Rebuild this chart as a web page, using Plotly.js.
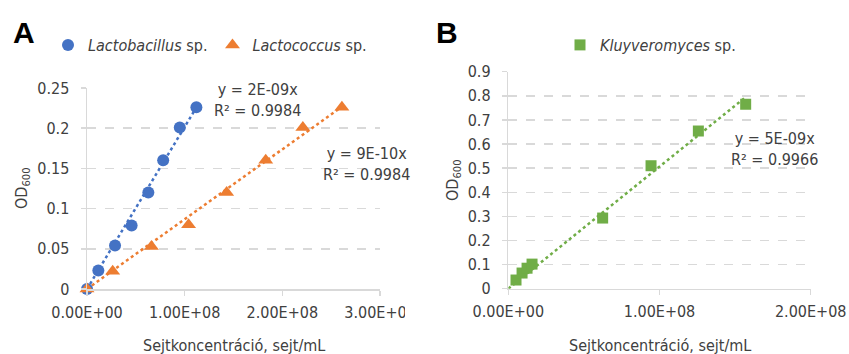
<!DOCTYPE html>
<html>
<head>
<meta charset="utf-8">
<script src="https://cdn.plot.ly/plotly-3.0.1.min.js"></script>
<style>
  html, body { margin: 0; padding: 0; background: #fff; }
  #chart { width: 849px; height: 354px; }
</style>
</head>
<body>
<div id="chart"></div>
<script>
// Calibration data: optical density (OD600) against cell concentration (cells/mL)
const lactobacillusX = [0, 1.16e7, 2.87e7, 4.57e7, 6.28e7, 7.8e7, 9.5e7, 1.12e8];
const lactobacillusY = [0, 0.023, 0.054, 0.079, 0.12, 0.16, 0.201, 0.226];

const lactococcusX = [0, 2.63e7, 6.6e7, 1.04e8, 1.43e8, 1.83e8, 2.21e8, 2.61e8];
const lactococcusY = [0, 0.022, 0.053, 0.08, 0.12, 0.16, 0.201, 0.226];

const kluyveromycesX = [5.1e6, 9.1e6, 1.24e7, 1.57e7, 6.24e7, 9.44e7, 1.257e8, 1.57e8];
const kluyveromycesY = [0.036, 0.065, 0.085, 0.102, 0.293, 0.51, 0.654, 0.765];

const xTicksA = [0, 1e8, 2e8, 3e8];
const xTickTextA = ['0.00E+00', '1.00E+08', '2.00E+08', '3.00E+08'];
const xTicksB = [0, 1e8, 2e8];
const xTickTextB = ['0.00E+00', '1.00E+08', '2.00E+08'];

const trendLabelA1 = 'y = 2E-09x<br>R² = 0.9984';
const trendLabelA2 = 'y = 9E-10x<br>R² = 0.9984';
const trendLabelB = 'y = 5E-09x<br>R² = 0.9966';

const BLUE = '#4472C4', ORANGE = '#ED7D31', GREEN = '#70AD47';
const NARROW = '"Liberation Sans Narrow", "Arial Narrow", "DejaVu Sans Condensed", sans-serif';
const TEXT = '#404040';
const GRID = '#d9d9d9';

// least-squares slope of a line forced through the origin
function originSlope(xs, ys) {
  let sxy = 0, sxx = 0;
  for (let i = 0; i < xs.length; i++) { sxy += xs[i] * ys[i]; sxx += xs[i] * xs[i]; }
  return sxy / sxx;
}

function trend(xs, ys, color, xa, ya) {
  const k = originSlope(xs, ys);
  const x0 = 0, x1 = Math.max(...xs);
  return {
    x: [x0, x1], y: [k * x0, k * x1],
    mode: 'lines', xaxis: xa, yaxis: ya, showlegend: false, hoverinfo: 'skip',
    line: { color: color, width: 2.5, dash: 'dot' }
  };
}

const traces = [
  trend(lactobacillusX, lactobacillusY, BLUE, 'x', 'y'),
  trend(lactococcusX, lactococcusY, ORANGE, 'x', 'y'),
  trend(kluyveromycesX, kluyveromycesY, GREEN, 'x2', 'y2'),
  {
    x: lactobacillusX, y: lactobacillusY, name: '<i>Lactobacillus</i> sp.',
    mode: 'markers', xaxis: 'x', yaxis: 'y', legend: 'legend', cliponaxis: false,
    marker: { symbol: 'circle', size: 12, color: BLUE }
  },
  {
    x: lactococcusX, y: lactococcusY, name: '<i>Lactococcus</i> sp.',
    mode: 'markers', xaxis: 'x', yaxis: 'y', legend: 'legend', cliponaxis: false,
    marker: { symbol: 'triangle-up', size: 13, color: ORANGE }
  },
  {
    x: kluyveromycesX, y: kluyveromycesY, name: '<i>Kluyveromyces</i> sp.',
    mode: 'markers', xaxis: 'x2', yaxis: 'y2', legend: 'legend2', cliponaxis: false,
    marker: { symbol: 'square', size: 11, color: GREEN }
  }
];

function xAxis(domain, range, vals, text, anchor) {
  return {
    domain: domain, range: range, anchor: anchor,
    tickmode: 'array', tickvals: vals, ticktext: text,
    showgrid: false, zeroline: false,
    showline: true, linecolor: GRID, linewidth: 1.5,
    ticks: 'outside', ticklen: 5, tickcolor: GRID, tickwidth: 1.5,
    ticklabelstandoff: 3, ticklabeloverflow: 'allow',
    tickfont: { family: NARROW, size: 16, color: TEXT }
  };
}
function yAxis(domain, range, dtick, anchor) {
  return {
    domain: domain, range: range, dtick: dtick, anchor: anchor,
    showgrid: true, gridcolor: GRID, griddash: 'dash', gridwidth: 1.5,
    zeroline: false,
    showline: true, linecolor: GRID, linewidth: 1.5,
    ticks: 'outside', ticklen: 5, tickcolor: GRID, tickwidth: 1.5,
    ticklabelstandoff: 8, ticklabeloverflow: 'allow',
    tickfont: { family: NARROW, size: 16, color: TEXT }
  };
}

const W = 849, H = 354;
const px = v => v / W, py = v => 1 - v / H;

function note(text, x, y, size, extra) {
  return Object.assign({
    text: text, x: px(x), y: py(y), xref: 'paper', yref: 'paper',
    xanchor: 'center', yanchor: 'middle', showarrow: false,
    font: { family: NARROW, size: size, color: TEXT }
  }, extra || {});
}

const BOLD = { family: '"Liberation Sans", Arial, sans-serif', size: 30, color: '#000' };

const layout = {
  width: W, height: H,
  margin: { l: 0, r: 0, t: 0, b: 0 },
  paper_bgcolor: '#fff', plot_bgcolor: '#fff',
  font: { family: NARROW, color: TEXT },
  xaxis: xAxis([px(87), px(380)], [0, 3e8], xTicksA, xTickTextA, 'y'),
  yaxis: yAxis([py(289), py(88)], [0, 0.25], 0.05, 'x'),
  xaxis2: xAxis([px(508.3), px(810.7)], [0, 2e8], xTicksB, xTickTextB, 'y2'),
  yaxis2: yAxis([py(288.7), py(71.7)], [0, 0.9], 0.1, 'x2'),
  legend: {
    orientation: 'h', x: px(48), y: py(45), xanchor: 'left', yanchor: 'middle',
    font: { family: NARROW, size: 16, color: TEXT }, bgcolor: 'rgba(0,0,0,0)'
  },
  legend2: {
    orientation: 'h', x: px(560), y: py(45), xanchor: 'left', yanchor: 'middle',
    font: { family: NARROW, size: 16, color: TEXT }, bgcolor: 'rgba(0,0,0,0)'
  },
  shapes: [
    // panel A is cut off at its right edge
    { type: 'rect', xref: 'paper', yref: 'paper', layer: 'above',
      x0: px(405), x1: px(428), y0: py(330), y1: py(298),
      fillcolor: '#fff', line: { width: 0 } }
  ],
  annotations: [
    note('<b>A</b>', 24, 32, 30, { font: BOLD }),
    note('<b>B</b>', 447, 32, 30, { font: BOLD }),
    note('Sejtkoncentráció, sejt/mL', 233.5, 345, 16),
    note('Sejtkoncentráció, sejt/mL', 659.5, 345, 16),
    note('OD<sub>600</sub>', 22, 188, 16, { textangle: -90 }),
    note('OD<sub>600</sub>', 453, 180, 16, { textangle: -90 }),
    note(trendLabelA1, 257, 100, 16),
    note(trendLabelA2, 366, 164, 16),
    note(trendLabelB, 774, 149, 16)
  ]
};

Plotly.newPlot('chart', traces, layout, { staticPlot: true, displayModeBar: false });
</script>
</body>
</html>
